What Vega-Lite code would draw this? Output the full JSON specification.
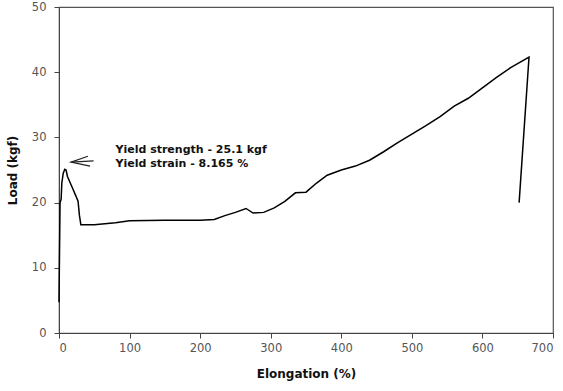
{
  "$schema": "https://vega.github.io/schema/vega-lite/v6.json",
  "width": 494,
  "height": 326,
  "autosize": {"type": "none"},
  "padding": {"left": 59, "top": 7, "right": 10, "bottom": 58},
  "background": "white",
  "config": {
    "view": {"stroke": "#555", "strokeWidth": 1.2},
    "axis": {"grid": false, "domainColor": "#444", "tickColor": "#444", "labelColor": "#555", "labelFont": "DejaVu Sans", "labelFontSize": 11.5, "titleFont": "DejaVu Sans", "titleFontSize": 12, "titleFontWeight": "bold", "titleColor": "#111", "tickSize": 5}
  },
  "datasets": {
    "curve": [
      {"i": 1, "e": 0, "l": 4.7},
      {"i": 2, "e": 0.5, "l": 10},
      {"i": 3, "e": 1, "l": 15},
      {"i": 4, "e": 1.5, "l": 20},
      {"i": 5, "e": 3, "l": 20.5},
      {"i": 6, "e": 4, "l": 23},
      {"i": 7, "e": 6, "l": 24.5},
      {"i": 8, "e": 8.2, "l": 25.1},
      {"i": 9, "e": 10, "l": 25},
      {"i": 10, "e": 12, "l": 24},
      {"i": 11, "e": 16, "l": 23},
      {"i": 12, "e": 20, "l": 22},
      {"i": 13, "e": 24, "l": 21},
      {"i": 14, "e": 27, "l": 20.2},
      {"i": 15, "e": 29, "l": 18},
      {"i": 16, "e": 31, "l": 16.6},
      {"i": 17, "e": 50, "l": 16.6},
      {"i": 18, "e": 80, "l": 16.9},
      {"i": 19, "e": 100, "l": 17.2},
      {"i": 20, "e": 150, "l": 17.3},
      {"i": 21, "e": 200, "l": 17.3},
      {"i": 22, "e": 220, "l": 17.4},
      {"i": 23, "e": 235, "l": 18},
      {"i": 24, "e": 250, "l": 18.5},
      {"i": 25, "e": 265, "l": 19.1},
      {"i": 26, "e": 275, "l": 18.4},
      {"i": 27, "e": 290, "l": 18.5},
      {"i": 28, "e": 305, "l": 19.2},
      {"i": 29, "e": 320, "l": 20.2},
      {"i": 30, "e": 335, "l": 21.5},
      {"i": 31, "e": 350, "l": 21.6},
      {"i": 32, "e": 365, "l": 23},
      {"i": 33, "e": 380, "l": 24.2},
      {"i": 34, "e": 400, "l": 25},
      {"i": 35, "e": 420, "l": 25.6},
      {"i": 36, "e": 440, "l": 26.5},
      {"i": 37, "e": 460, "l": 27.8},
      {"i": 38, "e": 480, "l": 29.2},
      {"i": 39, "e": 500, "l": 30.5},
      {"i": 40, "e": 520, "l": 31.8},
      {"i": 41, "e": 540, "l": 33.2},
      {"i": 42, "e": 560, "l": 34.8},
      {"i": 43, "e": 580, "l": 36},
      {"i": 44, "e": 600, "l": 37.6},
      {"i": 45, "e": 620, "l": 39.2},
      {"i": 46, "e": 640, "l": 40.7},
      {"i": 47, "e": 666, "l": 42.3},
      {"i": 48, "e": 652, "l": 20}
    ],
    "arrow": [
      {"g": "a", "i": 1, "e": 41, "l": 27.1},
      {"g": "a", "i": 2, "e": 17, "l": 26.2},
      {"g": "a", "i": 3, "e": 44, "l": 25.6},
      {"g": "b", "i": 1, "e": 17, "l": 26.2},
      {"g": "b", "i": 2, "e": 49, "l": 26.4}
    ],
    "notes": [
      {"e": 80, "l": 28.1, "t": "Yield strength - 25.1 kgf"},
      {"e": 80, "l": 25.9, "t": "Yield strain -  8.165 %"}
    ]
  },
  "layer": [
    {
      "data": {"name": "curve"},
      "mark": {"type": "line", "color": "black", "strokeWidth": 1.5},
      "encoding": {
        "x": {"field": "e", "type": "quantitative", "scale": {"domain": [0, 700]}, "axis": {"values": [0, 100, 200, 300, 400, 500, 600, 700], "title": "Elongation (%)", "labelPadding": 4, "titlePadding": 15}},
        "y": {"field": "l", "type": "quantitative", "scale": {"domain": [0, 50]}, "axis": {"values": [0, 10, 20, 30, 40, 50], "title": "Load (kgf)", "labelPadding": 8, "titlePadding": 12}},
        "order": {"field": "i"}
      }
    },
    {
      "data": {"name": "arrow"},
      "mark": {"type": "line", "color": "#222", "strokeWidth": 1.2},
      "encoding": {
        "x": {"field": "e", "type": "quantitative"},
        "y": {"field": "l", "type": "quantitative"},
        "detail": {"field": "g"},
        "order": {"field": "i"}
      }
    },
    {
      "data": {"name": "notes"},
      "mark": {"type": "text", "align": "left", "baseline": "middle", "font": "DejaVu Sans", "fontSize": 11, "fontWeight": "bold", "color": "#111"},
      "encoding": {
        "x": {"field": "e", "type": "quantitative"},
        "y": {"field": "l", "type": "quantitative"},
        "text": {"field": "t"}
      }
    }
  ]
}
